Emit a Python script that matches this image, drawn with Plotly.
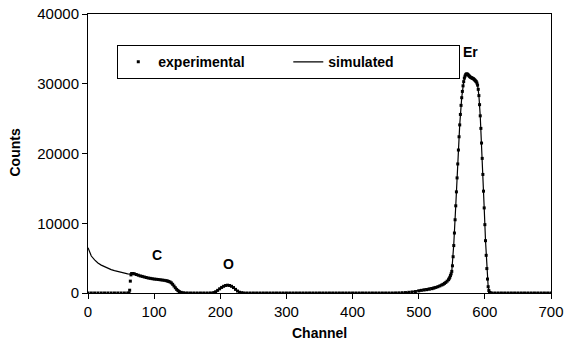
import plotly.graph_objects as go

# Experimental spectrum (channel, counts)
exp_channel = [0, 5, 10, 15, 20, 25, 30, 35, 40, 45, 50, 55, 60, 62, 63, 64,
               65, 66, 68, 70, 73, 76, 79, 82, 85, 88, 91, 94, 97, 100, 103, 106, 109, 112, 115, 118,
               120, 122, 124, 126, 128, 130, 132, 134, 136, 138, 141, 145, 150,
               155, 160, 165, 170, 175, 180, 185, 190, 193, 196, 199, 202, 205, 208, 211, 214,
               217, 220, 223, 226, 229, 232, 235, 240, 245, 250, 255, 260, 265, 270, 275, 280,
               285, 290, 295, 300, 305, 310, 315, 320, 325, 330, 335, 340, 345, 350, 355, 360,
               365, 370, 375, 380, 385, 390, 395, 400, 405, 410, 415, 420, 425, 430, 435, 440,
               445, 450, 455, 460, 465, 470, 475, 480, 485, 490, 495, 500, 504, 508, 512, 516,
               520, 523, 526, 529, 532, 535, 537, 539, 541, 543, 545, 546, 547, 548, 549, 550,
               551, 552, 553, 554, 555, 556, 557, 558, 559, 560, 561, 562, 563, 564, 565, 566,
               567, 568, 569, 570, 571, 572, 573, 574, 575, 576, 577, 578, 579, 580, 581, 582,
               583, 584, 585, 586, 587, 588, 589, 590, 591, 592, 593, 594, 595, 596, 597, 598,
               599, 600, 601, 602, 603, 604, 605, 606, 607, 608, 610, 615, 620, 625, 630, 635,
               640, 645, 650, 655, 660, 665, 670, 675, 680, 685, 690, 695, 700]
exp_counts = [0, 0, 0, 0, 0, 0, 0, 0, 0, 0, 0, 0, 0, 0, 400, 1700,
              2600, 2800, 2800, 2750, 2650, 2550, 2450, 2380, 2300, 2220, 2150, 2100, 2050, 2000, 1970, 1940, 1900, 1860, 1820, 1770,
              1720, 1660, 1580, 1450, 1250, 1000, 750, 520, 340, 200, 90, 30, 10,
              0, 0, 0, 0, 0, 0, 10, 60, 180, 380, 600, 800, 960, 1080, 1120, 1080,
              960, 780, 520, 280, 110, 40, 10, 0, 0, 0, 0, 0, 0, 0, 0, 0,
              0, 0, 0, 0, 0, 0, 0, 0, 0, 0, 0, 0, 0, 0, 0, 0,
              0, 0, 0, 0, 0, 0, 0, 0, 0, 0, 0, 0, 0, 0, 0, 0,
              0, 0, 0, 0, 10, 20, 40, 60, 100, 150, 200, 300, 380, 430, 480, 540,
              620, 700, 800, 900, 1020, 1150, 1250, 1380, 1520, 1700, 1900, 2050, 2250, 2500, 2750, 3100,
              3900, 5200, 6800, 8600, 10500, 12500, 14500, 16500, 18500, 20500, 22400, 24100, 25600, 26900, 28000, 28900,
              29700, 30300, 30800, 31100, 31300, 31400, 31400, 31350, 31250, 31150, 31050, 30950, 30900, 30850, 30800, 30750,
              30700, 30600, 30500, 30400, 30300, 30100, 29800, 29200, 28300, 27000, 25400, 23600, 21500, 19300, 17000, 14600,
              12200, 9800, 7500, 5400, 3500, 2000, 900, 350, 100, 30, 0, 0, 0, 0, 0, 0,
              0, 0, 0, 0, 0, 0, 0, 0, 0, 0, 0, 0, 0]

# Simulated spectrum (channel, counts)
sim_channel = [0, 2, 5, 10, 15, 20, 25, 30, 35, 40, 45, 50, 55, 60, 65, 70, 80, 90, 100,
               110, 120, 125, 130, 135, 140, 150, 160, 185, 190, 195, 200, 205, 210, 215,
               220, 225, 230, 240, 480, 500, 520, 530, 540, 546, 550, 553, 556, 559, 562,
               565, 568, 571, 574, 577, 580, 583, 586, 589, 591, 593, 595, 597, 599, 601,
               603, 605, 607, 610, 700]
sim_counts = [6500, 5900, 5300, 4750, 4300, 4000, 3750, 3550, 3350, 3200, 3080, 2950, 2850, 2750, 2700, 2700, 2420, 2200, 2000,
              1880, 1720, 1450, 1000, 450, 130, 20, 0, 0, 60, 300, 700, 1000, 1120, 1060,
              800, 350, 90, 0, 0, 400, 700, 1000, 1500, 2050, 3100, 7000, 12500, 18500, 24100,
              28000, 30300, 31300, 31350, 31050, 30850, 30700, 30400, 29800, 28300, 25400, 21500, 17000, 12200, 7500,
              3500, 900, 100, 0, 0]

x_ticks = [0, 100, 200, 300, 400, 500, 600, 700]
y_ticks = [0, 10000, 20000, 30000, 40000]

peak_labels = ["C", "O", "Er"]
peak_x = [104, 213, 578]
peak_y = [5500, 4200, 34600]

FONT = "Liberation Sans, Arial, sans-serif"

fig = go.Figure()
fig.add_trace(go.Scatter(
    x=exp_channel, y=exp_counts, mode="markers", name="<b>experimental</b>",
    marker=dict(symbol="square", size=3, color="black", line=dict(width=0)),
))
fig.add_trace(go.Scatter(
    x=sim_channel, y=sim_counts, mode="lines", name="<b>simulated</b>",
    line=dict(color="black", width=1.2),
))

for t, xv, yv in zip(peak_labels, peak_x, peak_y):
    fig.add_annotation(x=xv, y=yv, text="<b>%s</b>" % t, showarrow=False,
                       font=dict(family=FONT, size=14, color="black"))

fig.add_annotation(xref="paper", yref="paper", x=-0.158, y=0.503, xanchor="center", yanchor="middle",
                   text="<b>Counts</b>", textangle=-90, showarrow=False,
                   font=dict(family=FONT, size=14, color="black"))
fig.add_annotation(xref="paper", yref="paper", x=0.5, y=-0.143, xanchor="center", yanchor="middle",
                   text="<b>Channel</b>", showarrow=False,
                   font=dict(family=FONT, size=14, color="black"))

fig.update_layout(
    width=565, height=346,
    margin=dict(l=88, r=14, t=14, b=52.5, autoexpand=False),
    paper_bgcolor="white", plot_bgcolor="white",
    font=dict(family=FONT, size=14, color="black"),
    showlegend=True,
    legend=dict(
        orientation="h", x=0.0626, y=0.889, xanchor="left", yanchor="top",
        bordercolor="black", borderwidth=1.3, bgcolor="white",
        font=dict(family=FONT, size=14, color="black"),
        entrywidth=125,
    ),
    xaxis=dict(
        range=[0, 700], tickvals=x_ticks, ticktext=[str(v) for v in x_ticks],
        showgrid=False, zeroline=False, showline=True, linecolor="black", linewidth=1,
        mirror=True, ticks="outside", ticklen=5, tickcolor="black", tickwidth=1,
        tickfont=dict(size=15), automargin=False,
    ),
    yaxis=dict(
        range=[0, 40000], tickvals=y_ticks, ticktext=[str(v) for v in y_ticks],
        showgrid=False, zeroline=False, showline=True, linecolor="black", linewidth=1,
        mirror=True, ticks="outside", ticklen=5, tickcolor="black", tickwidth=1,
        tickfont=dict(size=15), automargin=False,
    ),
)

fig.write_html("out.html", config={"displayModeBar": False},
               post_script="document.body.style.margin='0px';")
